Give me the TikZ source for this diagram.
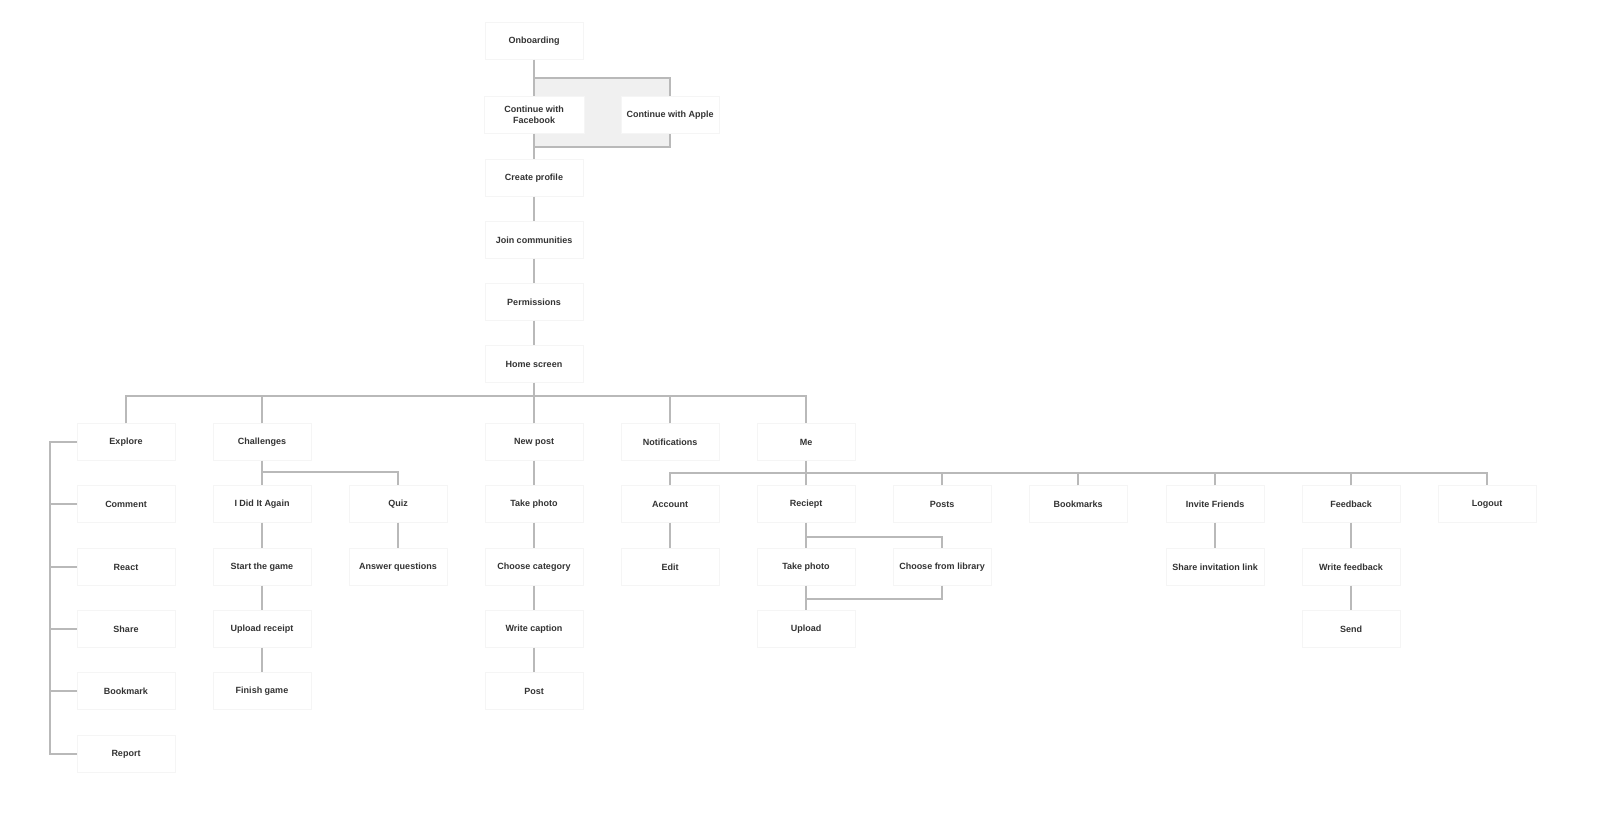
\documentclass[tikz,border=0pt]{standalone}
\usepackage{fontspec}
\setmainfont{Liberation Sans}
\usetikzlibrary{positioning}
\begin{document}
\begin{tikzpicture}[x=1pt, y=-1pt,
  screen/.style={draw=gray!8, fill=white, minimum width=98pt, minimum height=37pt, align=center, font=\fontsize{9}{10.5}\selectfont\bfseries, text=black!80},
  link/.style={draw=gray!55, line width=1.6pt}]

  \useasboundingbox (0,0) rectangle (1624,840);

  % Onboarding flow
  \fill[gray!12] (534,78) rectangle (670,147);
  \node[screen] (onb) at (534,41) {Onboarding};
  \node[screen, minimum width=100pt] (fb) at (534,115) {Continue with\\Facebook};
  \node[screen] (apple) at (670,115) {Continue with Apple};
  \node[screen] (prof) at (534,178) {Create profile};
  \node[screen] (comm) at (534,240) {Join communities};
  \node[screen] (perm) at (534,302) {Permissions};
  \node[screen] (home) at (534,364) {Home screen};

  % Tabs
  \node[screen] (explore) at (126,442) {Explore};
  \node[screen] (chal) at (262,442) {Challenges};
  \node[screen] (newpost) at (534,442) {New post};
  \node[screen] (notif) at (670,442) {Notifications};
  \node[screen] (me) at (806,442) {Me};

  % Explore
  \node[screen] (cmt) at (126,504) {Comment};
  \node[screen] (react) at (126,567) {React};
  \node[screen] (share) at (126,629) {Share};
  \node[screen] (bmk) at (126,691) {Bookmark};
  \node[screen] (report) at (126,754) {Report};

  % Challenges
  \node[screen] (again) at (262,504) {I Did It Again};
  \node[screen] (start) at (262,567) {Start the game};
  \node[screen] (uprec) at (262,629) {Upload receipt};
  \node[screen] (finish) at (262,691) {Finish game};
  \node[screen] (quiz) at (398,504) {Quiz};
  \node[screen] (answer) at (398,567) {Answer questions};

  % New post
  \node[screen] (photo) at (534,504) {Take photo};
  \node[screen] (cat) at (534,567) {Choose category};
  \node[screen] (caption) at (534,629) {Write caption};
  \node[screen] (post) at (534,691) {Post};

  % Me
  \node[screen] (account) at (670,504) {Account};
  \node[screen] (rec) at (806,504) {Reciept};
  \node[screen] (posts) at (942,504) {Posts};
  \node[screen] (bmks) at (1078,504) {Bookmarks};
  \node[screen] (invite) at (1215,504) {Invite Friends};
  \node[screen] (fback) at (1351,504) {Feedback};
  \node[screen] (logout) at (1487,504) {Logout};
  \node[screen] (edit) at (670,567) {Edit};
  \node[screen] (recphoto) at (806,567) {Take photo};
  \node[screen] (lib) at (942,567) {Choose from library};
  \node[screen] (upload) at (806,629) {Upload};
  \node[screen] (link) at (1215,567) {Share invitation link};
  \node[screen] (write) at (1351,567) {Write feedback};
  \node[screen] (send) at (1351,629) {Send};

  % connectors
  \draw[link] (onb) -- (fb);
  \draw[link] (onb.south) ++(0,18.5) -| (apple.north);
  \draw[link] (fb) -- (prof);
  \draw[link] (fb.south) ++(0,13.5) -| (apple.south);
  \draw[link] (prof) -- (comm);
  \draw[link] (comm) -- (perm);
  \draw[link] (perm) -- (home);

  \coordinate (bus) at (534,396);
  \draw[link] (home) -- (bus);
  \draw[link] (explore.north) |- (bus) -| (me.north);
  \foreach \t in {chal, newpost, notif}
    \draw[link] (\t.north) -- (\t.north |- bus);

  \coordinate (xl) at (50,442);
  \draw[link] (explore.west) -- (xl) |- (report.west);
  \foreach \t in {cmt, react, share, bmk}
    \draw[link] (\t.west) -- (\t.west -| xl);

  \draw[link] (chal) -- (again);
  \draw[link] (chal.south) ++(0,11) -| (quiz.north);
  \draw[link] (again) -- (start);
  \draw[link] (start) -- (uprec);
  \draw[link] (uprec) -- (finish);
  \draw[link] (quiz) -- (answer);

  \draw[link] (newpost) -- (photo);
  \draw[link] (photo) -- (cat);
  \draw[link] (cat) -- (caption);
  \draw[link] (caption) -- (post);

  \coordinate (mebus) at (806,473);
  \draw[link] (me) -- (mebus);
  \draw[link] (account.north) |- (mebus) -| (logout.north);
  \foreach \t in {rec, posts, bmks, invite, fback}
    \draw[link] (\t.north) -- (\t.north |- mebus);
  \draw[link] (account) -- (edit);
  \draw[link] (rec) -- (recphoto);
  \draw[link] (recphoto) -- (upload);
  \draw[link] (rec.south) ++(0,14.5) -| (lib.north);
  \draw[link] (lib.south) -- ++(0,13.5) -| (upload.north);
  \draw[link] (invite) -- (link);
  \draw[link] (fback) -- (write);
  \draw[link] (write) -- (send);

\end{tikzpicture}
\end{document}
